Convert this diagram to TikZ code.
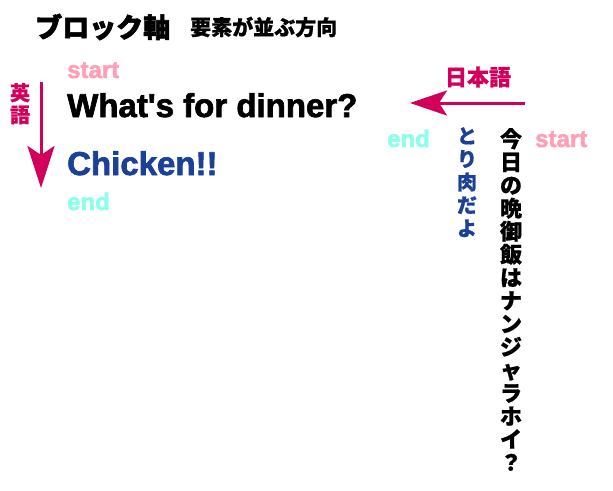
\documentclass[tikz,border=0pt]{standalone}
\usepackage{fontspec}
\setmainfont{Liberation Sans}[Ligatures=TeXOff, BoldFeatures={FakeBold=2}]
\newfontfamily\cjk{Noto Sans CJK JP}[BoldFeatures={FakeBold=0.8}]
\newfontfamily\cjkheavy{Noto Sans CJK JP}[BoldFeatures={FakeBold=2.2}]
\usetikzlibrary{arrows.meta}
\definecolor{mag}{RGB}{210,0,90}
\definecolor{pinkc}{RGB}{255,158,181}
\definecolor{cyanc}{RGB}{140,255,235}
\definecolor{bluec}{RGB}{27,64,150}
\tikzset{
  lat/.style={inner sep=0pt, anchor=base west, font=\bfseries\fontsize{#1}{#1}\selectfont},
  jp/.style={inner sep=0pt, font=\cjk\bfseries\fontsize{#1}{#1}\selectfont},
  vjp/.style={inner sep=0pt, anchor=north, align=center, font=\cjk\bfseries\fontsize{#1}{23.1}\selectfont},
  axisarrow/.style={draw=mag, line width=3pt, -{Stealth[length=42pt,width=27pt,inset=9pt]}},
}
\begin{document}
\begin{tikzpicture}[x=1pt,y=-1pt]
\useasboundingbox (0,0) rectangle (613,490);
% title
\node[inner sep=0pt, anchor=west, font=\cjkheavy\bfseries\fontsize{27}{27}\selectfont] (title) at (35,27) {ブロック軸};
\node[jp=21, anchor=west] (sub) at (190,27) {要素が並ぶ方向};
% left (English)
\node[lat=24, text=pinkc] (lstart) at (67,78) {start};
\node[lat=33] (q) at (67,117) {What's for dinner?};
\node[lat=33, text=bluec] (a) at (67,175) {Chicken!!};
\node[lat=24, text=cyanc] (lend) at (67,210) {end};
\node[vjp=20, text=mag, font=\cjk\bfseries\fontsize{20}{22}\selectfont] (en) at (20,83) {英\\語};
\coordinate (v1) at (41,82);
\coordinate (v2) at (41,188);
\draw[axisarrow] (v1) -- (v2);
% right (Japanese)
\node[jp=22, text=mag] (ja) at (478,77) {日本語};
\coordinate (h1) at (525,103);
\coordinate (h2) at (410,103);
\draw[axisarrow, -{Stealth[length=37pt,width=25pt,inset=8pt]}] (h1) -- (h2);
\node[lat=24, text=pinkc] (rstart) at (535,147) {start};
\node[lat=24, text=cyanc] (rend) at (387,147) {end};
\node[vjp=22] (jq) at (511,128) {今\\日\\の\\晩\\御\\飯\\は\\ナ\\ン\\ジ\\ャ\\ラ\\ホ\\イ\\？};
\node[vjp=20, text=bluec] (ja2) at (467,127) {と\\り\\肉\\だ\\よ};
\end{tikzpicture}
\end{document}
